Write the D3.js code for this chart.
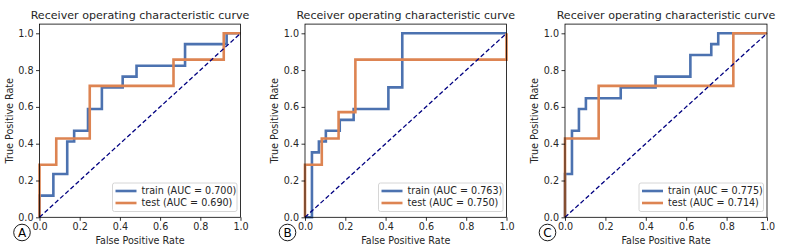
<!DOCTYPE html>
<html>
<head>
<meta charset="utf-8">
<script src="https://cdn.jsdelivr.net/npm/d3@7"></script>
<style>
  body { margin: 0; background: #fff; }
  svg { display: block; font-family: "DejaVu Sans", sans-serif; }
</style>
</head>
<body>
<div id="main"></div>
<script>
// ROC points (fpr / tpr for each step corner)
const panelLabels = ["A", "B", "C"];
const trainAUC = ["0.700", "0.763", "0.775"];
const testAUC = ["0.690", "0.750", "0.714"];

const trainFprA = [0, 0, 2/29, 2/29, 4/29, 4/29, 5/29, 5/29, 7/29, 7/29, 9/29, 9/29, 12/29, 12/29, 14/29, 14/29, 21/29, 21/29, 27/29, 27/29, 1];
const trainTprA = [0, 2/17, 2/17, 4/17, 4/17, 7/17, 7/17, 8/17, 8/17, 10/17, 10/17, 12/17, 12/17, 13/17, 13/17, 14/17, 14/17, 16/17, 16/17, 1, 1];
const testFprA = [0, 0, 1/12, 1/12, 3/12, 3/12, 8/12, 8/12, 11/12, 11/12, 1];
const testTprA = [0, 2/7, 2/7, 3/7, 3/7, 5/7, 5/7, 6/7, 6/7, 1, 1];

const trainFprB = [0, 1/29, 1/29, 2/29, 2/29, 3/29, 3/29, 5/29, 5/29, 7/29, 7/29, 12/29, 12/29, 14/29, 14/29, 1];
const trainTprB = [0, 0, 6/17, 6/17, 7/17, 7/17, 8/17, 8/17, 9/17, 9/17, 10/17, 10/17, 12/17, 12/17, 1, 1];
const testFprB = [0, 0, 1/12, 1/12, 2/12, 2/12, 3/12, 3/12, 1, 1];
const testTprB = [0, 2/7, 2/7, 3/7, 3/7, 4/7, 4/7, 6/7, 6/7, 1];

const trainFprC = [0, 0, 1/29, 1/29, 2/29, 2/29, 3/29, 3/29, 8/29, 8/29, 13/29, 13/29, 18/29, 18/29, 21/29, 21/29, 22/29, 22/29, 1];
const trainTprC = [0, 4/17, 4/17, 8/17, 8/17, 10/17, 10/17, 11/17, 11/17, 12/17, 12/17, 13/17, 13/17, 15/17, 15/17, 16/17, 16/17, 1, 1];
const testFprC = [0, 0, 2/12, 2/12, 10/12, 10/12, 1];
const testTprC = [0, 3/7, 3/7, 5/7, 5/7, 1, 1];

const tickValues = [0, 0.2, 0.4, 0.6, 0.8, 1.0];

const panels = [
    { train: [trainFprA, trainTprA], test: [testFprA, testTprA], left: 39.5, right: 240.5 },
    { train: [trainFprB, trainTprB], test: [testFprB, testTprB], left: 305, right: 506.5 },
    { train: [trainFprC, trainTprC], test: [testFprC, testTprC], left: 565, right: 767 },
];

const W = 787, H = 251;
const yBottom = 217.3, yOne = 33.3;
const blue = "#4c72b0", orange = "#dd8452";
const FS = 9.6;

const svg = d3.select("#main").append("svg")
    .attr("width", W)
    .attr("height", H);

function drawPanel(p, i) {
    const x = d3.scaleLinear().domain([0, 1]).range([p.left, p.right]);
    const y = d3.scaleLinear().domain([0, 1]).range([yBottom, yOne]);
    const top = y(1.05);
    const g = svg.append("g");

    const line = d3.line().x(d => x(d[0])).y(d => y(d[1]));
    const zip = s => s[0].map((v, k) => [v, s[1][k]]);

    g.append("path")
        .datum(zip(p.train))
        .attr("d", line)
        .attr("fill", "none")
        .attr("stroke", blue)
        .attr("stroke-width", 2.6);
    g.append("path")
        .datum(zip(p.test))
        .attr("d", line)
        .attr("fill", "none")
        .attr("stroke", orange)
        .attr("stroke-width", 2.6);

    // chance line
    g.append("path")
        .datum([[0, 0], [1, 1]])
        .attr("d", line)
        .attr("fill", "none")
        .attr("stroke", "navy")
        .attr("stroke-width", 1.3)
        .attr("stroke-dasharray", "4.5,2.5");

    // frame
    g.append("rect")
        .attr("x", p.left)
        .attr("y", top)
        .attr("width", p.right - p.left)
        .attr("height", yBottom - top)
        .attr("fill", "none")
        .attr("stroke", "#000")
        .attr("stroke-width", 0.8);

    const xAxis = g.append("g")
        .attr("transform", `translate(0,${yBottom})`)
        .call(d3.axisBottom(x).tickValues(tickValues).tickFormat(d3.format(".1f")).tickSize(3.5).tickPadding(2.5));
    const yAxis = g.append("g")
        .attr("transform", `translate(${p.left},0)`)
        .call(d3.axisLeft(y).tickValues(tickValues).tickFormat(d3.format(".1f")).tickSize(3.5).tickPadding(2.5));
    [xAxis, yAxis].forEach(a => {
        a.select(".domain").remove();
        a.selectAll("line").attr("stroke", "#000").attr("stroke-width", 0.8);
        a.selectAll("text").attr("font-size", FS).attr("fill", "#262626")
            .attr("font-family", "DejaVu Sans");
    });

    const cx = (p.left + p.right) / 2;
    g.append("text")
        .attr("x", cx)
        .attr("y", 19)
        .attr("text-anchor", "middle")
        .attr("font-size", 11.1)
        .attr("fill", "#262626")
        .text("Receiver operating characteristic curve");
    g.append("text")
        .attr("x", cx)
        .attr("y", 243.5)
        .attr("text-anchor", "middle")
        .attr("font-size", FS)
        .attr("fill", "#262626")
        .text("False Positive Rate");
    g.append("text")
        .attr("transform", `translate(${p.left - 27},${(top + yBottom) / 2}) rotate(-90)`)
        .attr("text-anchor", "middle")
        .attr("font-size", FS)
        .attr("fill", "#262626")
        .text("True Positive Rate");

    // legend
    const lx = p.right - 128, ly = 183;
    const leg = g.append("g");
    leg.append("rect")
        .attr("x", lx).attr("y", ly)
        .attr("width", 124.5).attr("height", 28.5)
        .attr("rx", 2)
        .attr("fill", "#fff").attr("fill-opacity", 0.85)
        .attr("stroke", "#ccc").attr("stroke-width", 0.8);
    const entries = [
        { color: blue, label: `train (AUC = ${trainAUC[i]})` },
        { color: orange, label: `test (AUC = ${testAUC[i]})` },
    ];
    entries.forEach((e, k) => {
        const yy = ly + 8 + k * 12;
        leg.append("line")
            .attr("x1", lx + 3).attr("x2", lx + 24)
            .attr("y1", yy).attr("y2", yy)
            .attr("stroke", e.color).attr("stroke-width", 2.6);
        leg.append("text")
            .attr("x", lx + 29).attr("y", yy + 3.4)
            .attr("font-size", FS)
            .attr("fill", "#262626")
            .text(e.label);
    });

    // circled panel letter
    const lcx = p.left - 17.5, lcy = 232.5;
    g.append("circle")
        .attr("cx", lcx).attr("cy", lcy).attr("r", 8.3)
        .attr("fill", "none").attr("stroke", "#000").attr("stroke-width", 0.9);
    g.append("text")
        .attr("x", lcx).attr("y", lcy + 4.3)
        .attr("text-anchor", "middle")
        .attr("font-size", 12)
        .attr("fill", "#000")
        .text(panelLabels[i]);
}

panels.forEach(drawPanel);
</script>
</body>
</html>
